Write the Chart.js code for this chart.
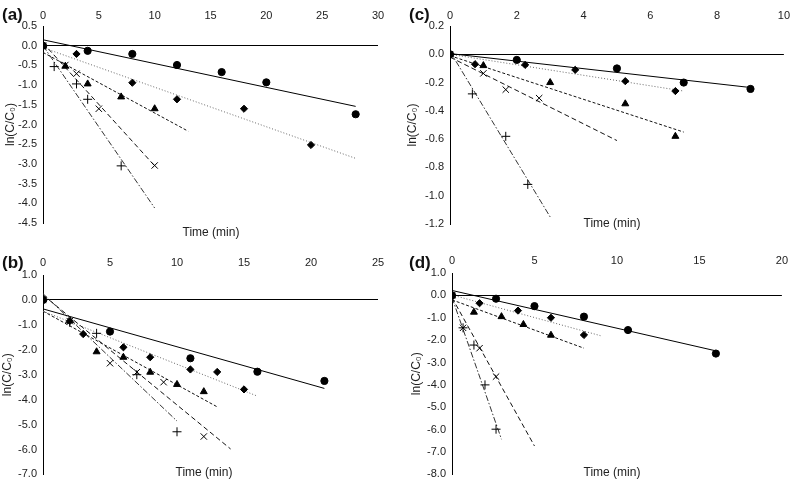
<!DOCTYPE html>
<html>
<head>
<meta charset="utf-8">
<script src="https://cdn.jsdelivr.net/npm/chart.js@4.4.1/dist/chart.umd.min.js"></script>
<style>
  body { margin: 0; background: #fff; width: 793px; height: 479px; position: relative; overflow: hidden;
         font-family: "Liberation Sans", Arial, sans-serif; }
  .panel { position: absolute; }
  .tag { position: absolute; font-weight: bold; font-size: 17px; color: #111; line-height: 1; transform: translateY(-50%); }
  .xtitle { position: absolute; font-size: 12px; color: #222; line-height: 1; transform: translate(-50%, -50%); white-space: nowrap; }
</style>
</head>
<body>
<div class="panel" style="left:0;top:0;width:395px;height:240px"><canvas id="chartA"></canvas></div>
<div class="panel" style="left:395px;top:0;width:398px;height:240px"><canvas id="chartC"></canvas></div>
<div class="panel" style="left:0;top:240px;width:395px;height:247px"><canvas id="chartB"></canvas></div>
<div class="panel" style="left:395px;top:240px;width:398px;height:247px"><canvas id="chartD"></canvas></div>

<div class="tag" style="left:2px;top:14px">(a)</div>
<div class="tag" style="left:409px;top:14px">(c)</div>
<div class="tag" style="left:2px;top:262px">(b)</div>
<div class="tag" style="left:409px;top:262px">(d)</div>

<div class="xtitle" style="left:211px;top:232px">Time (min)</div>
<div class="xtitle" style="left:612px;top:223px">Time (min)</div>
<div class="xtitle" style="left:204px;top:472px">Time (min)</div>
<div class="xtitle" style="left:612px;top:472px">Time (min)</div>

<script>
// ---- panel (a) ----
const aXTicks = [0, 5, 10, 15, 20, 25, 30];
const aYTicks = [0.5, 0, -0.5, -1, -1.5, -2, -2.5, -3, -3.5, -4, -4.5];
const aCircle   = [[0, 0], [4, -0.13], [8, -0.21], [12, -0.49], [16, -0.67], [20, -0.93], [28, -1.74]];
const aDiamond  = [[0, 0], [3, -0.21], [8, -0.94], [12, -1.36], [18, -1.6], [24, -2.52]];
const aTriangle = [[0, 0], [2, -0.52], [4, -0.97], [7, -1.3], [10, -1.6]];
const aCross    = [[0, 0], [2, -0.49], [3, -0.71], [5, -1.6], [10, -3.04]];
const aPlus     = [[0, 0], [1, -0.53], [3, -0.97], [4, -1.36], [7, -3.05]];
// fitted lines: [x0, y0, x1, y1]
const aFits = [[0, 0.15, 28, -1.54], [0, -0.05, 28, -2.86], [0, -0.17, 13, -2.17], [0, 0.07, 10, -3.05], [0, 0, 10, -4.12]];

// ---- panel (b) ----
const bXTicks = [0, 5, 10, 15, 20, 25];
const bYTicks = [1, 0, -1, -2, -3, -4, -5, -6, -7];
const bCircle   = [[0, 0], [5, -1.27], [11, -2.34], [16, -2.88], [21, -3.25]];
const bDiamond  = [[0, 0], [2, -0.85], [3, -1.37], [6, -1.9], [8, -2.3], [11, -2.79], [13, -2.89], [15, -3.59]];
const bTriangle = [[0, 0], [4, -2.08], [6, -2.3], [8, -2.9], [10, -3.39], [12, -3.68]];
const bCross    = [[0, 0], [2, -0.85], [5, -2.54], [7, -2.9], [9, -3.3], [12, -5.48]];
const bPlus     = [[0, 0], [2, -0.9], [4, -1.34], [7, -3.0], [10, -5.29]];
const bFits = [[0, -0.36, 21, -3.55], [0, -0.45, 16, -3.86], [0, -0.45, 13, -4.29], [0, 0.2, 14, -5.98], [0, 0.25, 10, -4.86]];

// ---- panel (c) ----
const cXTicks = [0, 2, 4, 6, 8, 10];
const cYTicks = [0.2, 0, -0.2, -0.4, -0.6, -0.8, -1, -1.2];
const cCircle   = [[0, 0], [2, -0.04], [5, -0.1], [7, -0.2], [9, -0.245]];
const cDiamond  = [[0, 0], [0.75, -0.07], [2.25, -0.075], [3.75, -0.11], [5.25, -0.19], [6.75, -0.26]];
const cTriangle = [[0, 0], [1, -0.08], [3, -0.2], [5.25, -0.35], [6.75, -0.58]];
const cCross    = [[0, 0], [1, -0.135], [1.67, -0.25], [2.67, -0.31]];
const cPlus     = [[0, 0], [0.67, -0.28], [1.67, -0.58], [2.33, -0.92]];
const cFits = [[0, 0.005, 9, -0.235], [0, 0, 7, -0.26], [0, -0.01, 7, -0.55], [0, -0.02, 5, -0.61], [0, 0.02, 3, -1.15]];

// ---- panel (d) ----
const dXTicks = [0, 5, 10, 15, 20];
const dYTicks = [1, 0, -1, -2, -3, -4, -5, -6, -7, -8];
const dCircle   = [[0, 0], [2.67, -0.15], [5, -0.48], [8, -0.95], [10.67, -1.55], [16, -2.6]];
const dDiamond  = [[0, 0], [1.67, -0.35], [4, -0.68], [6, -1.0], [8, -1.77]];
const dTriangle = [[0, 0], [1.33, -0.75], [3, -0.95], [4.33, -1.3], [6, -1.78]];
const dCross    = [[0, 0], [0.67, -1.45], [1.67, -2.36], [2.67, -3.63]];
const dPlus     = [[0, 0], [0.67, -1.45], [1.33, -2.22], [2, -4.0], [2.67, -5.98]];
const dFits = [[0, 0.22, 16, -2.48], [0, 0.02, 9, -1.8], [0, -0.2, 8, -2.36], [0, -0.1, 5, -6.73], [0, -0.1, 3, -6.43]];

const FONT = '"Liberation Sans", Arial, sans-serif';

// marker and line styles, one per series (circle, diamond, triangle, cross, plus)
const markerStyles = [
    { pointStyle: 'circle',   pointRadius: 3.6, fill: true },
    { pointStyle: 'rectRot',  pointRadius: 3.6, fill: true },
    { pointStyle: 'triangle', pointRadius: 4,   fill: true },
    { pointStyle: 'crossRot', pointRadius: 4.5, fill: false },
    { pointStyle: 'cross',    pointRadius: 4.5, fill: false }
];
const lineStyles = [
    { color: '#000', dash: [] },
    { color: '#666', dash: [1, 2] },
    { color: '#111', dash: [3, 2] },
    { color: '#111', dash: [5, 3] },
    { color: '#333', dash: [6, 2, 1.5, 2] }
];

function toPoints(pairs) {
    return pairs.map(p => ({ x: p[0], y: p[1] }));
}

function buildPanel(id, p) {
    const datasets = [];

    // Scatter markers
    p.series.forEach((s, i) => {
        const m = markerStyles[i];
        datasets.push({
            data: toPoints(s),
            showLine: false,
            pointStyle: m.pointStyle,
            pointRadius: m.pointRadius,
            pointBackgroundColor: m.fill ? '#000' : 'rgba(0,0,0,0)',
            pointBorderColor: '#000',
            pointBorderWidth: 1,
            order: 0
        });
    });

    // Fitted trend lines
    p.fits.forEach((f, i) => {
        const l = lineStyles[i];
        datasets.push({
            data: [{ x: f[0], y: f[1] }, { x: f[2], y: f[3] }],
            showLine: true,
            borderColor: l.color,
            borderWidth: 1,
            borderDash: l.dash,
            pointRadius: 0,
            fill: false,
            order: 1
        });
    });

    return new Chart(document.getElementById(id), {
        type: 'scatter',
        data: { datasets: datasets },
        options: {
            responsive: true,
            maintainAspectRatio: false,
            animation: false,
            layout: {
                padding: { left: 0, top: 0, right: p.padRight, bottom: p.padBottom }
            },
            plugins: { legend: { display: false }, tooltip: { enabled: false } },
            scales: {
                x: {
                    type: 'linear',
                    position: 'top',
                    min: p.xTicks[0],
                    max: p.xTicks[p.xTicks.length - 1],
                    afterBuildTicks: scale => { scale.ticks = p.xTicks.map(v => ({ value: v })); },
                    afterFit: scale => { scale.height = p.top; },
                    grid: { display: false, drawTicks: false },
                    border: { display: false },
                    ticks: {
                        padding: p.xPad,
                        maxRotation: 0,
                        color: '#222',
                        font: { family: FONT, size: 11 },
                        callback: v => String(v)
                    }
                },
                y: {
                    type: 'linear',
                    min: p.yTicks[p.yTicks.length - 1],
                    max: p.yTicks[0],
                    afterBuildTicks: scale => { scale.ticks = p.yTicks.map(v => ({ value: v })); },
                    afterFit: scale => { scale.width = p.left; },
                    grid: {
                        drawTicks: false,
                        lineWidth: 1,
                        color: ctx => (ctx.tick && Math.abs(ctx.tick.value) < 1e-9) ? '#000' : 'rgba(0,0,0,0)'
                    },
                    border: { display: true, color: '#000', width: 1 },
                    ticks: {
                        padding: 6,
                        color: '#222',
                        font: { family: FONT, size: 11 },
                        callback: v => Number(v).toFixed(1)
                    },
                    title: {
                        display: true,
                        text: 'ln(C/C\u2080)',
                        color: '#222',
                        font: { family: FONT, size: 12 },
                        padding: { top: p.titlePad, bottom: 0 }
                    }
                }
            }
        }
    });
}

buildPanel('chartA', {
    xTicks: aXTicks, yTicks: aYTicks,
    series: [aCircle, aDiamond, aTriangle, aCross, aPlus], fits: aFits,
    left: 43, top: 26, padRight: 17, padBottom: 17, xPad: 3, titlePad: 3
});
buildPanel('chartC', {
    xTicks: cXTicks, yTicks: cYTicks,
    series: [cCircle, cDiamond, cTriangle, cCross, cPlus], fits: cFits,
    left: 55, top: 26, padRight: 8, padBottom: 16, xPad: 3, titlePad: 10
});
buildPanel('chartB', {
    xTicks: bXTicks, yTicks: bYTicks,
    series: [bCircle, bDiamond, bTriangle, bCross, bPlus], fits: bFits,
    left: 43, top: 35, padRight: 17, padBottom: 6, xPad: 5, titlePad: 0
});
buildPanel('chartD', {
    xTicks: dXTicks, yTicks: dYTicks,
    series: [dCircle, dDiamond, dTriangle, dCross, dPlus], fits: dFits,
    left: 57, top: 33, padRight: 6, padBottom: 6, xPad: 5, titlePad: 14
});
</script>
</body>
</html>
